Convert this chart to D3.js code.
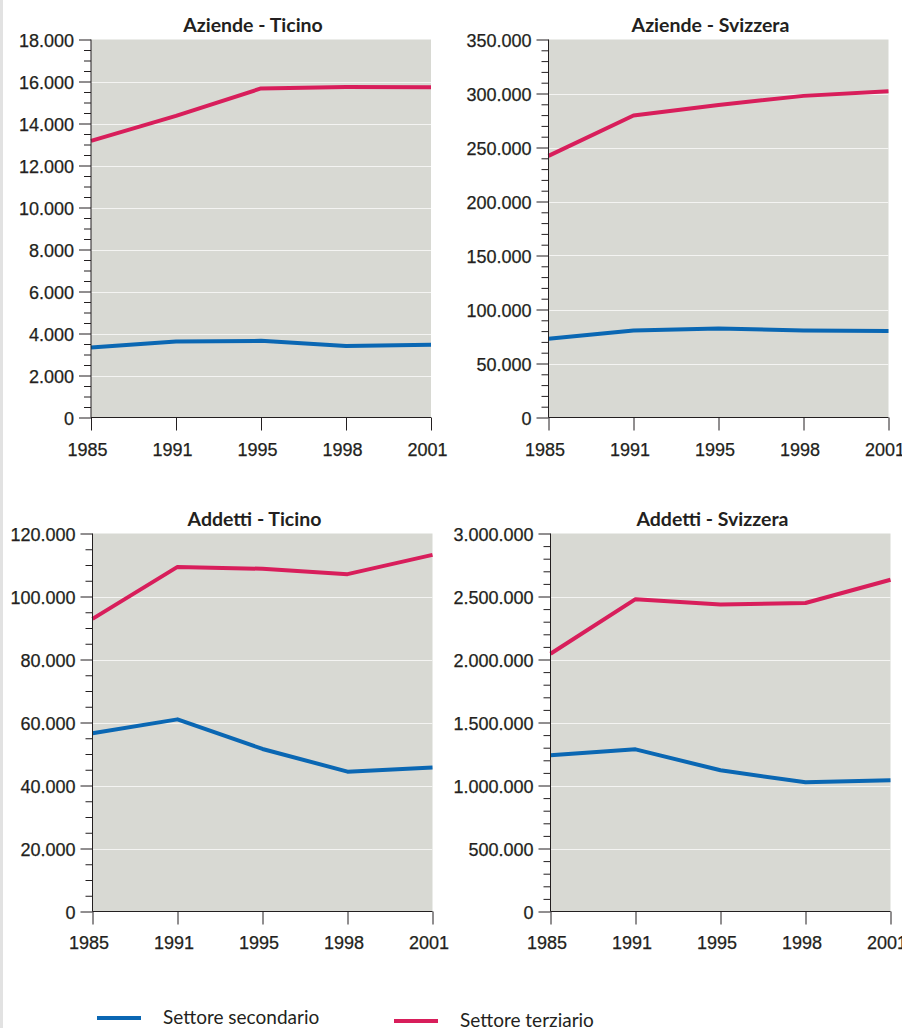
<!DOCTYPE html>
<html>
<head>
<meta charset="utf-8">
<script src="https://cdn.jsdelivr.net/npm/d3@7"></script>
<style>
    body { margin: 0; background: #fff; }
    svg { display: block; font-family: Lato, "Open Sans", sans-serif; }
    .tick text { font-size: 18px; fill: #231f20; stroke: #231f20; stroke-width: 0.25px; }
    .title { font-size: 19.5px; font-weight: bold; fill: #231f20; }
    .legend text { font-size: 19px; fill: #231f20; }
</style>
</head>
<body>
<div id="chart"></div>
<script>
// anni sull'asse x (tutti i pannelli)
const years = [1985, 1991, 1995, 1998, 2001];

// valori
const aziendeTicinoSecondario = [3330, 3620, 3650, 3400, 3460];
const aziendeTicinoTerziario = [13170, 14360, 15670, 15740, 15730];
const aziendeSvizzeraSecondario = [73000, 80500, 82400, 80500, 80200];
const aziendeSvizzeraTerziario = [242200, 279600, 289400, 297800, 302100];
const addettiTicinoSecondario = [56600, 61000, 51600, 44400, 45700];
const addettiTicinoTerziario = [92900, 109400, 108800, 107100, 113200];
const addettiSvizzeraSecondario = [1240000, 1287000, 1121000, 1025000, 1041000];
const addettiSvizzeraTerziario = [2046000, 2479000, 2437000, 2448000, 2633000];

const seriesNames = ['Settore secondario', 'Settore terziario'];
const seriesColors = ['#0a67b3', '#d81e5b'];

const titles = ['Aziende - Ticino', 'Aziende - Svizzera', 'Addetti - Ticino', 'Addetti - Svizzera'];
const yMax = [18000, 350000, 120000, 3000000];
const yMajorStep = [2000, 50000, 20000, 500000];
const yMinorStep = [500, 10000, 5000, 100000];

const it = d3.formatLocale({decimal: ',', thousands: '.', grouping: [3], currency: ['', ' €']});
const fmt = it.format(',d');

const panels = [
    {title: titles[0], max: yMax[0], major: yMajorStep[0], minor: yMinorStep[0],
     series: [aziendeTicinoSecondario, aziendeTicinoTerziario],
     box: {left: 91, right: 431, top: 39.5, bottom: 417.5}, labelY: 38},
    {title: titles[1], max: yMax[1], major: yMajorStep[1], minor: yMinorStep[1],
     series: [aziendeSvizzeraSecondario, aziendeSvizzeraTerziario],
     box: {left: 548.5, right: 888.5, top: 39.5, bottom: 417.5}, labelY: 38},
    {title: titles[2], max: yMax[2], major: yMajorStep[2], minor: yMinorStep[2],
     series: [addettiTicinoSecondario, addettiTicinoTerziario],
     box: {left: 92.5, right: 432.5, top: 533.5, bottom: 911.5}, labelY: 37},
    {title: titles[3], max: yMax[3], major: yMajorStep[3], minor: yMinorStep[3],
     series: [addettiSvizzeraSecondario, addettiSvizzeraTerziario],
     box: {left: 550.5, right: 890.5, top: 533.5, bottom: 911.5}, labelY: 37}
];

const svg = d3.select('#chart')
              .append('svg')
              .attr('width', 902)
              .attr('height', 1028);

// bordo grigio a sinistra
svg.append('rect')
   .attr('x', 0).attr('y', 0)
   .attr('width', 3).attr('height', 1028)
   .attr('fill', '#e2e2e2');

panels.forEach(p => {
    const b = p.box;
    const g = svg.append('g');

    const x = d3.scalePoint()
                .domain(years)
                .range([b.left, b.right]);

    const y = d3.scaleLinear()
                .domain([0, p.max])
                .range([b.bottom, b.top]);

    const majorTicks = d3.range(0, p.max + 1, p.major);
    const minorTicks = d3.range(0, p.max + 1, p.minor).filter(v => v % p.major !== 0);

    g.append('rect')
     .attr('x', b.left)
     .attr('y', b.top)
     .attr('width', b.right - b.left)
     .attr('height', b.bottom - b.top)
     .attr('fill', '#d8d9d3');

    // griglia bianca
    g.append('g').selectAll('line')
     .data(majorTicks.filter(v => v > 0 && v < p.max))
     .join('line')
     .attr('x1', b.left)
     .attr('x2', b.right)
     .attr('y1', d => Math.round(y(d)) + 0.5)
     .attr('y2', d => Math.round(y(d)) + 0.5)
     .attr('stroke', '#f4f4f2')
     .attr('stroke-width', 1.2);

    const line = d3.line()
                   .x((d, i) => x(years[i]))
                   .y(d => y(d));

    p.series.forEach((s, i) => {
        g.append('path')
         .datum(s)
         .attr('d', line)
         .attr('fill', 'none')
         .attr('stroke', seriesColors[i])
         .attr('stroke-width', 4)
         .attr('stroke-linejoin', 'round');
    });

    // tacche minori
    g.append('g')
     .attr('transform', `translate(${b.left},0)`)
     .call(d3.axisLeft(y).tickValues(minorTicks).tickSize(7).tickFormat(''))
     .call(a => a.select('.domain').remove())
     .selectAll('line').attr('stroke', '#231f20');

    const yAxis = g.append('g')
                   .attr('transform', `translate(${b.left},0)`)
                   .call(d3.axisLeft(y).tickValues(majorTicks).tickSize(12).tickPadding(5).tickFormat(fmt));
    yAxis.select('.domain').attr('stroke', '#231f20').attr('d', `M0,${b.top}V${b.bottom}`);
    yAxis.selectAll('line').attr('stroke', '#231f20');
    yAxis.selectAll('text').attr('font-family', null).attr('font-size', null).attr('dy', '0.4em');

    const xAxis = g.append('g')
                   .attr('transform', `translate(0,${b.bottom})`)
                   .call(d3.axisBottom(x).tickSize(13));
    xAxis.select('.domain').attr('stroke', '#231f20').attr('d', `M${b.left},0H${b.right}`);
    xAxis.selectAll('line').attr('stroke', '#231f20');
    xAxis.selectAll('text')
         .attr('font-family', null).attr('font-size', null)
         .attr('y', p.labelY).attr('dy', null).attr('dx', -4);

    g.append('text')
     .attr('class', 'title')
     .attr('x', (b.left + b.right) / 2 - 8)
     .attr('y', b.top - 8)
     .attr('text-anchor', 'middle')
     .text(p.title);
});

// legenda
const legendX = [97, 394];
const legend = svg.append('g').attr('class', 'legend');
seriesNames.forEach((name, i) => {
    const ly = 1018 + i * 3;
    legend.append('line')
          .attr('x1', legendX[i]).attr('x2', legendX[i] + 44)
          .attr('y1', ly).attr('y2', ly)
          .attr('stroke', seriesColors[i])
          .attr('stroke-width', 4);
    legend.append('text')
          .attr('x', legendX[i] + 66)
          .attr('y', ly + 6)
          .text(name);
});
</script>
</body>
</html>
